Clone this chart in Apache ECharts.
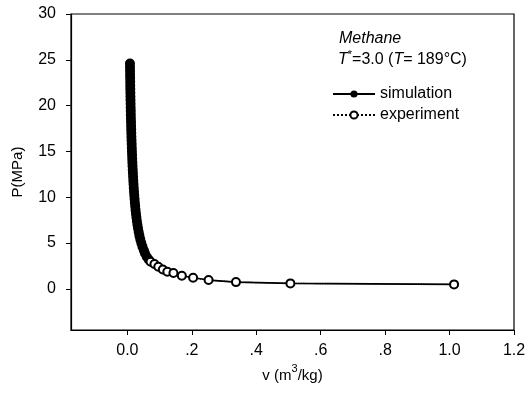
<!DOCTYPE html>
<html><head><meta charset="utf-8">
<script src="https://cdn.jsdelivr.net/npm/echarts@6/dist/echarts.min.js"></script>
<style>html,body{margin:0;padding:0;background:#fff}#c{width:530px;height:407px}</style>
</head><body><div id="c"></div>
<script>
const vValues = [0.0080,0.0081,0.0083,0.0084,0.0086,0.0088,0.0089,0.0091,0.0093,0.0095,0.0097,0.0100,0.0102,0.0105,0.0107,0.0110,0.0113,0.0116,0.0119,0.0122,0.0125,0.0129,0.0133,0.0137,0.0141,0.0146,0.0150,0.0155,0.0160,0.0166,0.0172,0.0178,0.0184,0.0191,0.0198,0.0206,0.0214,0.0223,0.0233,0.0243,0.0254,0.0267,0.0280,0.0295,0.0312,0.0330,0.0351,0.0374,0.0400,0.0432,0.0468,0.0510,0.0545,0.0600,0.0660,0.0720,0.0840,0.0960,0.1100,0.1240,0.1430,0.1690,0.2040,0.2520,0.3370,0.5060,1.0140];
const pExperiment = [24.6,24.2,23.8,23.4,23.0,22.6,22.2,21.8,21.4,21.0,20.6,20.2,19.8,19.4,19.0,18.6,18.2,17.8,17.4,17.0,16.6,16.2,15.8,15.4,15.0,14.6,14.2,13.8,13.4,13.0,12.6,12.2,11.8,11.4,11.0,10.6,10.2,9.8,9.4,9.0,8.6,8.2,7.8,7.4,7.0,6.6,6.2,5.8,5.4,5.0,4.6,4.2,3.87,3.5,3.2,2.95,2.7,2.4,2.1,1.86,1.72,1.42,1.2,0.95,0.73,0.59,0.48];
const pSimulation = [24.6,24.2,23.8,23.4,23.0,22.6,22.2,21.8,21.4,21.0,20.6,20.2,19.8,19.4,19.0,18.6,18.2,17.8,17.4,17.0,16.6,16.2,15.8,15.4,15.0,14.6,14.2,13.8,13.4,13.0,12.6,12.2,11.8,11.4,11.0,10.6,10.2,9.8,9.4,9.0,8.6,8.2,7.8,7.4,7.0,6.6,6.2,5.8,5.4,5.0,4.6,4.2,3.87,3.5,3.2,2.95,2.7,2.4,2.1,1.86,1.72,1.42,1.2,0.95,0.73,0.59,0.48];
const xTicks = [0,0.2,0.4,0.6,0.8,1.0,1.2];
const xTickLabels = ['0.0','.2','.4','.6','.8','1.0','1.2'];
const yTicks = [0,5,10,15,20,25,30];

const font = 'Liberation Sans';
const chart = echarts.init(document.getElementById('c'));
chart.setOption({
  animation:false,
  backgroundColor:'#fff',
  grid:{left:71,right:16,top:14,bottom:77,show:true,borderColor:'#000',borderWidth:1.2},
  xAxis:{type:'value',min:-0.175,max:1.2,
    name:'{a|v (m}{s|3}{a|/kg)}',nameLocation:'middle',nameGap:33,
    nameTextStyle:{rich:{a:{fontFamily:font,fontSize:15,color:'#000',verticalAlign:'bottom',lineHeight:19},s:{fontFamily:font,fontSize:11,color:'#000',verticalAlign:'top',lineHeight:19}}},
    axisLine:{onZero:false,lineStyle:{color:'#000',width:1.2}},
    axisTick:{show:true,length:5,inside:false,customValues:xTicks,lineStyle:{color:'#000'}},
    axisLabel:{customValues:xTicks,margin:13,fontFamily:font,fontSize:16,color:'#000',
      formatter:function(v){const i=xTicks.findIndex(t=>Math.abs(t-v)<1e-9);return i>=0?xTickLabels[i]:'';}},
    splitLine:{show:false}},
  yAxis:{type:'value',min:-4.5,max:30,
    name:'P(MPa)',nameLocation:'middle',nameGap:46,nameRotate:90,
    nameTextStyle:{fontFamily:font,fontSize:15,color:'#000'},
    axisLine:{show:true,onZero:false,lineStyle:{color:'#000',width:1.2}},
    axisTick:{show:true,length:5,customValues:yTicks,lineStyle:{color:'#000'}},
    axisLabel:{customValues:yTicks,margin:15,fontFamily:font,fontSize:16,color:'#000'},
    splitLine:{show:false}},
  legend:{orient:'vertical',left:332,top:86,itemWidth:42,itemHeight:9,itemGap:5,padding:0,
    textStyle:{fontFamily:font,fontSize:16,color:'#000'},
    data:['simulation','experiment']},
  graphic:[
    {type:'text',left:339,top:31,style:{text:'Methane',fontFamily:font,fontSize:16,fontStyle:'italic',fill:'#000'}},
    {type:'text',left:338,top:49,style:{text:'{i|T}{s|*}{n|=3.0 (}{i|T}{n|= 189°C)}',
      rich:{i:{fontFamily:font,fontSize:16,fontStyle:'italic',fill:'#000',verticalAlign:'bottom',lineHeight:19},
            s:{fontFamily:font,fontSize:11,fill:'#000',verticalAlign:'top',lineHeight:19},
            n:{fontFamily:font,fontSize:16,fill:'#000',verticalAlign:'bottom',lineHeight:19}}}}
  ],
  series:[
    {name:'simulation',type:'line',data:vValues.map((v,i)=>[v,pSimulation[i]]),
      symbol:'circle',symbolSize:7,showAllSymbol:true,
      lineStyle:{color:'#000',width:1.6},itemStyle:{color:'#000',borderColor:'#000'},z:2},
    {name:'experiment',type:'line',
      data:vValues.map((v,i)=>{const p=pExperiment[i];return p>=3.2?{value:[v,p],itemStyle:{color:'#000'}}:[v,p];}),
      symbol:'circle',symbolSize:8,showAllSymbol:true,
      lineStyle:{color:'#000',width:1.2,type:'dotted'},
      itemStyle:{color:'#fff',borderColor:'#000',borderWidth:2},z:3}
  ]
});
</script></body></html>
